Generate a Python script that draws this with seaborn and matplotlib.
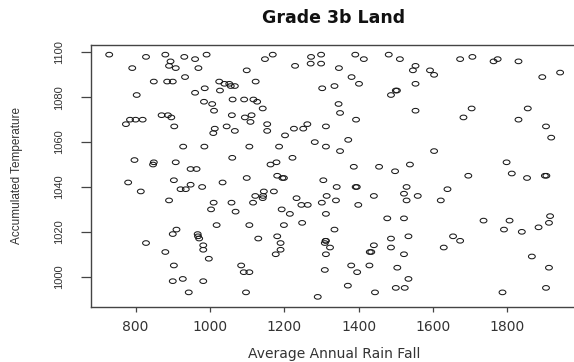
import numpy as np
import pandas as pd
import matplotlib
matplotlib.use('Agg')
import matplotlib.pyplot as plt
from matplotlib.path import Path
import seaborn as sns

# Values
rain = [729, 828, 880, 931, 960, 991, 894, 890, 908, 791, 969, 933, 1099, 849, 885,
        900, 1025, 1039, 1052, 1056, 1067, 1123, 803, 960, 986, 1027, 984, 1006, 1011,
        1061, 1092, 1117, 870, 887, 896, 785, 800, 819, 774, 904, 1059, 1094, 1109,
        1013, 1009, 1045, 1067, 928, 985, 1106, 797, 847, 849, 908, 1060, 948, 964,
        1169, 1148, 1272, 1299, 1229, 1271, 1299, 1391, 1414, 1481, 1511, 1347, 1381,
        1401, 1302, 1335, 1500, 1503, 1487, 1127, 1142, 1346, 1350, 1393, 1112, 1154,
        1154, 1262, 1226, 1251, 1312, 1202, 1282, 1312, 1186, 1372, 1350, 1222, 1163,
        1179, 1387, 1455, 1498, 1181,
        1553, 1546, 1592, 1603, 1553, 1673, 1706, 1763, 1774, 1830, 1894, 1942, 1553,
        1704, 1682, 1855, 1830, 1904, 1918, 1603, 1538, 1798, 1695, 1812, 1901, 1905,
        780, 903, 814, 921, 935, 948, 979, 1034, 1099, 890, 1010, 1058, 1116, 1122,
        1003, 1069, 1018, 1106, 910, 900, 967, 968, 971, 828, 982, 982, 880, 997, 903,
        1084, 1091, 1106, 900, 927, 982, 943, 1097,
        1195, 1199, 1305, 1341, 1392, 1395, 1529, 1145, 1172, 1142, 1143, 1233, 1314,
        1339, 1441, 1522, 1529, 1246, 1263, 1301, 1399, 1193, 1215, 1312, 1199, 1248,
        1477, 1522, 1335, 1130, 1181, 1190, 1190, 1177, 1312, 1311, 1309, 1323, 1312,
        1441, 1430, 1434, 1487, 1487, 1534, 1522, 1309, 1380, 1396, 1429, 1504, 1534,
        1371, 1500, 1524, 1444, 1290,
        1559, 1639, 1621, 1736, 1806, 1915, 1912, 1884, 1791, 1839, 1654, 1673, 1629,
        1866, 1912, 1787, 1904, 1853]

temp = [1099, 1098, 1099, 1098, 1097, 1099, 1096, 1094, 1093, 1093, 1093, 1089, 1092,
        1087, 1087, 1087, 1087, 1086, 1086, 1085, 1085, 1087, 1081, 1082, 1084, 1083,
        1078, 1077, 1074, 1079, 1079, 1079, 1072, 1072, 1071, 1070, 1070, 1070, 1068,
        1067, 1072, 1071, 1069, 1066, 1064, 1067, 1065, 1058, 1058, 1058, 1052, 1050,
        1051, 1051, 1053, 1048, 1048,
        1099, 1097, 1098, 1099, 1094, 1095, 1095, 1099, 1097, 1099, 1097, 1093, 1089,
        1086, 1084, 1085, 1083, 1083, 1081, 1078, 1075, 1077, 1073, 1070, 1072, 1068,
        1065, 1068, 1066, 1066, 1067, 1063, 1060, 1058, 1058, 1061, 1056, 1053, 1050,
        1051, 1049, 1049, 1047, 1045,
        1094, 1092, 1092, 1090, 1086, 1097, 1098, 1096, 1097, 1096, 1089, 1091, 1074,
        1075, 1071, 1075, 1070, 1067, 1062, 1056, 1050, 1051, 1045, 1046, 1045, 1045,
        1042, 1043, 1038, 1039, 1039, 1041, 1040, 1042, 1044, 1034, 1033, 1033, 1033,
        1036, 1030, 1029, 1023, 1023, 1021, 1019, 1019, 1018, 1017, 1015, 1014, 1012,
        1011, 1008, 1005, 1005, 1002, 1002, 998, 999, 998, 993, 993,
        1044, 1044, 1043, 1040, 1040, 1040, 1040, 1038, 1038, 1035, 1036, 1035, 1036,
        1034, 1036, 1037, 1034, 1032, 1032, 1033, 1032, 1030, 1028, 1028, 1023, 1024,
        1026, 1026, 1021, 1017, 1018, 1015, 1012, 1010, 1016, 1016, 1015, 1013, 1010,
        1014, 1011, 1011, 1017, 1013, 1018, 1010, 1003, 1005, 1002, 1005, 1004, 999,
        996, 995, 995, 993, 991,
        1036, 1039, 1034, 1025, 1025, 1027, 1024, 1022, 1021, 1020, 1018, 1016, 1013,
        1009, 1004, 993, 995, 1044]

x_ticks = [800, 1000, 1200, 1400, 1600, 1800]
y_ticks = [1000, 1020, 1040, 1060, 1080, 1100]

df = pd.DataFrame({'rain': rain, 'temp': temp})

sns.set_style('white')
plt.rcParams['font.family'] = ['DejaVu Sans']

# R style open circle, a bit squashed like the reference
circ = Path.unit_circle()
ellipse = Path(circ.vertices * np.array([1.0, 0.68]), circ.codes)

fig = plt.figure(figsize=(5.74, 3.62), dpi=100)
ax = fig.add_axes([0.1585, 0.1533, 0.8484, 0.7224])

sns.scatterplot(data=df, x='rain', y='temp', ax=ax, marker=ellipse, s=24,
                facecolor='none', edgecolor='#1a1a1a', linewidth=0.75)

ax.set_xlim(680, 1990)
ax.set_ylim(986.7, 1103.3)
ax.set_xticks(x_ticks)
ax.set_yticks(y_ticks)

for s in ax.spines.values():
    s.set_color('#444444')
    s.set_linewidth(1.0)

ax.tick_params(axis='x', length=3.4, width=0.9, color='#444444', pad=6,
               labelsize=10, labelcolor='#333333', direction='out', bottom=True)
ax.tick_params(axis='y', length=7, width=0.9, color='#444444', pad=12,
               labelsize=8, labelcolor='#333333', direction='out', left=True)
for lab in ax.get_yticklabels():
    lab.set_rotation(90)
    lab.set_va('center')
    lab.set_family(['Liberation Sans Narrow', 'Liberation Sans', 'DejaVu Sans'])

ax.set_xlabel('Average Annual Rain Fall', fontsize=10, color='#333333')
ax.xaxis.set_label_coords(0.5, -0.155)
ax.set_ylabel('Accumulated Temperature', fontsize=8.5, color='#333333',
              family=['Liberation Sans', 'DejaVu Sans'])
ax.yaxis.set_label_coords(-0.14, 0.5)

fig.text(333.5 / 574, 1 - 18 / 362, 'Grade 3b Land', ha='center', va='center',
         fontsize=12.5, fontweight='bold', color='#111111')

plt.savefig('out.png', dpi=100)
